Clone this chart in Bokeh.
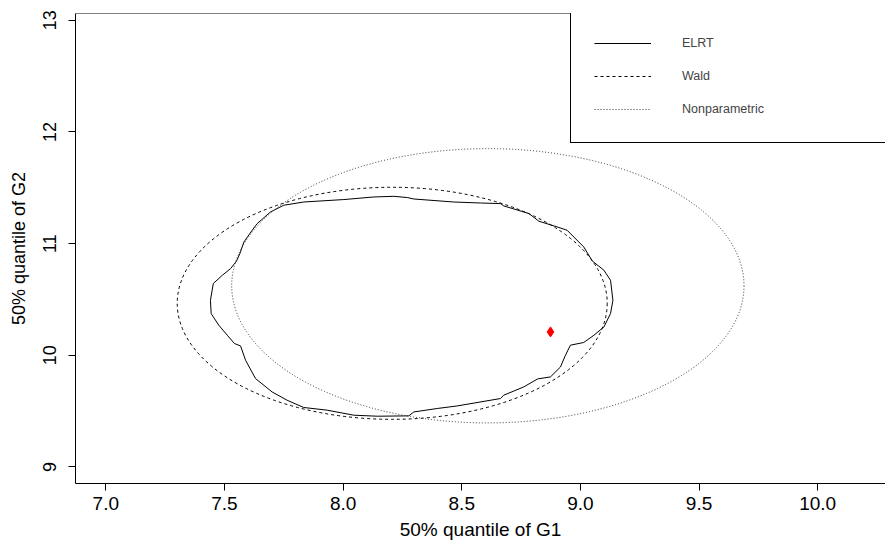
import numpy as np
from bokeh.plotting import figure
from bokeh.models import Range1d, FixedTicker, PrintfTickFormatter, Legend, LegendItem, Span
from bokeh.embed import file_html
from bokeh.resources import INLINE

# ELRT confidence contour
elrt_x = [7.441, 7.453, 7.491, 7.526, 7.551, 7.565, 7.582, 7.617, 7.638, 7.694,
          7.750, 7.834, 8.003, 8.129, 8.214, 8.270, 8.298, 8.466, 8.579, 8.663,
          8.677, 8.783, 8.825, 8.902, 8.944, 9.014, 9.050, 9.099, 9.127, 9.137,
          9.127, 9.099, 9.057, 9.014, 8.958, 8.937, 8.916, 8.874, 8.820, 8.761,
          8.677, 8.663, 8.481, 8.397, 8.298, 8.277, 8.144, 8.045, 7.933, 7.834,
          7.764, 7.701, 7.631, 7.589, 7.568, 7.542, 7.512, 7.476, 7.444, 7.441]
elrt_y = [10.492, 10.642, 10.716, 10.776, 10.844, 10.910, 11.014, 11.119, 11.179, 11.283,
          11.343, 11.372, 11.394, 11.417, 11.423, 11.412, 11.399, 11.372, 11.363, 11.358,
          11.337, 11.269, 11.200, 11.149, 11.119, 10.970, 10.844, 10.761, 10.671, 10.492,
          10.373, 10.253, 10.179, 10.114, 10.090, 10.000, 9.895, 9.806, 9.788, 9.716,
          9.642, 9.612, 9.546, 9.523, 9.492, 9.457, 9.454, 9.463, 9.508, 9.532,
          9.597, 9.671, 9.791, 9.955, 10.083, 10.105, 10.179, 10.269, 10.373, 10.492]

# Wald ellipse: centre and full axis lengths
wald_center_x = [8.207]
wald_center_y = [10.465]
wald_width = [1.812]
wald_height = [2.078]

# Nonparametric ellipse: centre and full axis lengths
np_center_x = [8.610]
np_center_y = [10.622]
np_width = [2.159]
np_height = [2.456]

# Point estimate
est_x = [8.874]
est_y = [10.209]

x_ticks = [7.0, 7.5, 8.0, 8.5, 9.0, 9.5, 10.0]
y_ticks = [9, 10, 11, 12, 13]
series_labels = ["ELRT", "Wald", "Nonparametric"]

FONT = "Liberation Sans"
WALD_DASH = "3 3"
NP_DASH = "1 2"
NP_COLOR = "#333333"

x0, x1 = 6.8723, 10.2857
y0, y1 = 8.8514, 13.06

p = figure(width=885, height=542, output_backend="svg", toolbar_location=None,
           x_range=Range1d(x0, x1), y_range=Range1d(y0, y1),
           min_border_left=75, min_border_right=0, min_border_top=13, min_border_bottom=59)

p.xgrid.visible = False
p.ygrid.visible = False
p.outline_line_color = None
p.background_fill_color = "white"
p.border_fill_color = "white"

# top border of the plot box
p.add_layout(Span(location=y1, dimension="width", line_color="black", line_width=1))

r_elrt = p.line(elrt_x, elrt_y, line_color="black", line_width=1)
p.ellipse(x=wald_center_x, y=wald_center_y, width=wald_width, height=wald_height,
          fill_color=None, line_color="black", line_width=1, line_dash=WALD_DASH)
p.ellipse(x=np_center_x, y=np_center_y, width=np_width, height=np_height,
          fill_color=None, line_color=NP_COLOR, line_width=1, line_dash=NP_DASH)
p.scatter(est_x, est_y, marker="diamond", size=10, fill_color="red", line_color="red")

# legend-only line renderers sharing the ellipse styles (no visible data)
r_wald = p.line(np.array([np.nan]), np.array([np.nan]), line_color="black",
                line_width=1, line_dash=WALD_DASH)
r_np = p.line(np.array([np.nan]), np.array([np.nan]), line_color=NP_COLOR,
              line_width=1, line_dash=NP_DASH)

legend = Legend(items=[LegendItem(label=series_labels[0], renderers=[r_elrt]),
                       LegendItem(label=series_labels[1], renderers=[r_wald]),
                       LegendItem(label=series_labels[2], renderers=[r_np])],
                location=(495, 470 - 130), padding=23, spacing=13, margin=0,
                glyph_width=57, glyph_height=20, label_height=20, label_standoff=31,
                label_width=181, border_line_color="black", border_line_width=1,
                border_line_alpha=1, background_fill_alpha=1,
                label_text_font=FONT, label_text_font_size="12.5px")
p.add_layout(legend)

for ax in (p.xaxis[0], p.yaxis[0]):
    ax.axis_line_color = "black"
    ax.axis_line_width = 1
    ax.major_tick_line_color = "black"
    ax.major_tick_in = 0
    ax.major_tick_out = 7
    ax.minor_tick_line_color = None
    ax.major_label_text_font = FONT
    ax.major_label_text_color = "black"
    ax.axis_label_text_font = FONT
    ax.axis_label_text_font_style = "normal"
    ax.axis_label_text_color = "black"

p.xaxis.ticker = FixedTicker(ticks=x_ticks)
p.xaxis.formatter = PrintfTickFormatter(format="%.1f")
p.xaxis.axis_label = "50% quantile of G1"
p.xaxis.major_label_text_font_size = "19px"
p.xaxis.axis_label_text_font_size = "19px"
p.xaxis.major_label_standoff = 6
p.xaxis.axis_label_standoff = 6

p.yaxis.ticker = FixedTicker(ticks=y_ticks)
p.yaxis.formatter = PrintfTickFormatter(format="%d")
p.yaxis.major_label_orientation = "vertical"
p.yaxis.axis_label = "50% quantile of G2"
p.yaxis.major_label_text_font_size = "18px"
p.yaxis.axis_label_text_font_size = "18px"
p.yaxis.major_label_standoff = 12
p.yaxis.axis_label_standoff = 12

open("out.html", "w").write(file_html(p, INLINE))
